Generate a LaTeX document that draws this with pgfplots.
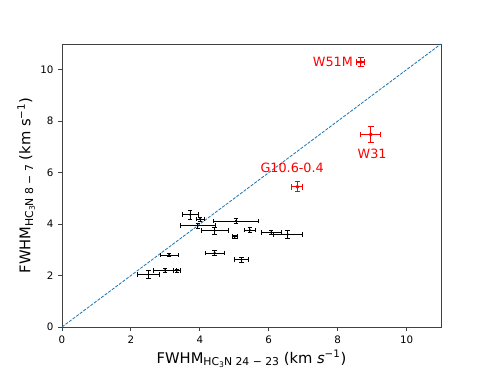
\documentclass[border=0pt]{standalone}
\usepackage{fontspec}
\setmainfont{DejaVu Sans}
\usepackage{pgfplots}
\usepackage{pgfplotstable}
\pgfplotsset{compat=1.18}
\pgfplotstableread{
x y ex ey
3.72 4.37 0.23 0.18
4.01 4.20 0.11 0.08
5.05 4.12 0.66 0.10
3.94 3.94 0.50 0.10
4.43 3.75 0.39 0.13
5.45 3.76 0.17 0.10
6.07 3.67 0.29 0.08
6.55 3.60 0.42 0.16
5.01 3.51 0.07 0.05
4.43 2.88 0.28 0.10
3.11 2.80 0.26 0.05
5.21 2.62 0.20 0.10
2.99 2.20 0.34 0.06
3.33 2.19 0.11 0.05
2.51 2.04 0.31 0.16
}\blackdata
\pgfplotstableread{
x y ex ey
8.67 10.30 0.12 0.16
8.96 7.48 0.29 0.31
6.83 5.45 0.16 0.19
}\reddata
\definecolor{mplblue}{HTML}{1F77B4}
\begin{document}
\begin{tikzpicture}
\path[use as bounding box] (-44.64pt,-29.52pt) rectangle (308.16pt,235.44pt);
\begin{axis}[
  at={(0,0)}, anchor=south west,
  scale only axis,
  width=272.9pt, height=203.8pt,
  xmin=0, xmax=11, ymin=0, ymax=11,
  xtick={0,2,4,6,8,10}, ytick={0,2,4,6,8,10},
  tick align=outside, tick pos=left,
  major tick length=2.6pt,
  axis line style={line width=0.6pt, black!75},
  every tick/.style={black!75, line width=0.6pt},
  /pgf/number format/assume math mode=true,
  tick label style={font=\fontsize{7.4}{9}\selectfont},
  label style={font=\fontsize{10.6}{12}\selectfont},
  xlabel={FWHM\raisebox{-0.35ex}{\fontsize{7.8}{8}\selectfont HC\raisebox{-0.3ex}{\fontsize{5.5}{6}\selectfont 3}N 24 − 23} (km \textit{s}\textsuperscript{−1})},
  ylabel={FWHM\raisebox{-0.35ex}{\fontsize{7.8}{8}\selectfont HC\raisebox{-0.3ex}{\fontsize{5.5}{6}\selectfont 3}N 8 − 7} (km s\textsuperscript{−1})},
  xlabel style={yshift=2pt},
  ylabel style={yshift=-3pt},
  clip=false,
]
\addplot[mplblue, dashed, line width=0.6pt, dash pattern=on 2.2pt off 1pt] coordinates {(0,0) (11,11)};
\addplot[only marks, black, mark=*, mark size=0.6pt,
  error bars/.cd, x dir=both, x explicit, y dir=both, y explicit,
  error bar style={black, line width=0.5pt},
  error mark options={rotate=90, black, mark size=1.6pt, line width=0.5pt}]
  table[x=x, y=y, x error=ex, y error=ey] {\blackdata};
\addplot[only marks, red, mark=*, mark size=1.2pt,
  error bars/.cd, x dir=both, x explicit, y dir=both, y explicit,
  error bar style={red, line width=0.8pt},
  error mark options={rotate=90, red, mark size=2pt, line width=0.8pt}]
  table[x=x, y=y, x error=ex, y error=ey] {\reddata};
\node[red, anchor=east, font=\fontsize{9.2}{11}\selectfont, inner sep=0pt] at (axis cs:8.45,10.3) {W51M};
\node[red, font=\fontsize{9.2}{11}\selectfont, inner sep=0pt] at (axis cs:9.0,6.72) {W31};
\node[red, font=\fontsize{9.2}{11}\selectfont, inner sep=0pt] at (axis cs:6.68,6.2) {G10.6-0.4};
\end{axis}
\end{tikzpicture}
\end{document}
